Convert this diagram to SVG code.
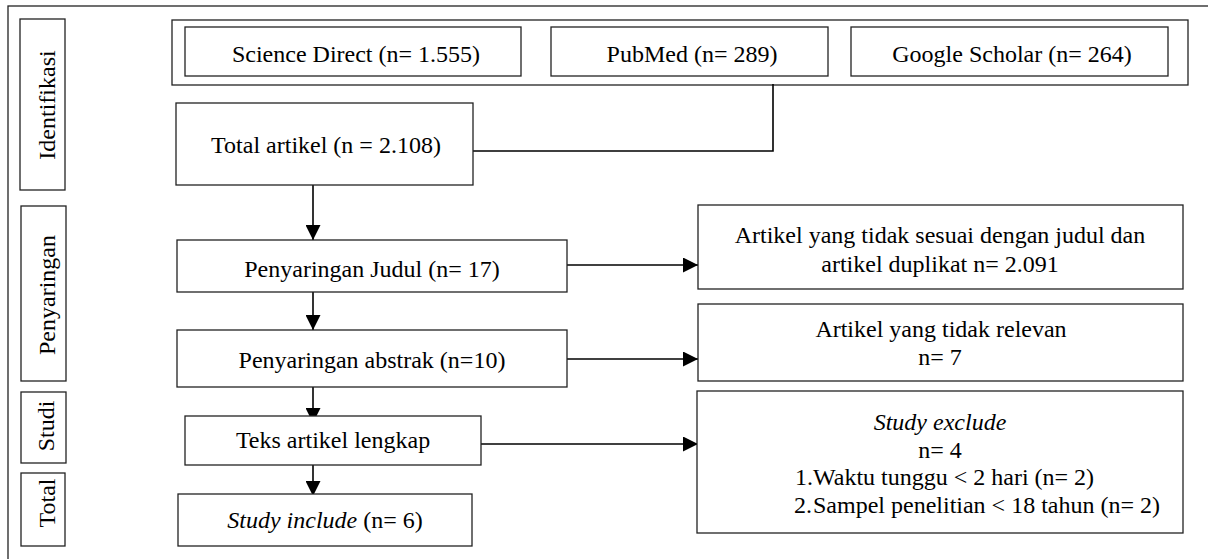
<svg xmlns="http://www.w3.org/2000/svg" width="1208" height="559" viewBox="0 0 1208 559">
<style>
text{font-family:"Liberation Serif","Times New Roman",serif;font-size:24px;fill:#000}
.c{text-anchor:middle}
.box{fill:#fff;stroke:#222;stroke-width:1.3}
.ln{fill:none;stroke:#000;stroke-width:1.6}
.it{font-style:italic}
</style>
<defs>
<marker id="ah" markerWidth="15" markerHeight="15" refX="15" refY="7.5" orient="auto" markerUnits="userSpaceOnUse">
<path d="M0,0 L15,7.5 L0,15 Z" fill="#000"/>
</marker>
</defs>
<rect x="8" y="6" width="1210" height="565" fill="#fff" stroke="#222" stroke-width="1.3"/>

<g id="lbl-identifikasi"><rect class="box" x="20" y="19" width="45" height="171"/><text class="c" transform="translate(55,105) rotate(-90)">Identifikasi</text></g>
<g id="lbl-penyaringan"><rect class="box" x="21" y="206" width="45" height="175"/><text class="c" transform="translate(55,295) rotate(-90)">Penyaringan</text></g>
<g id="lbl-studi"><rect class="box" x="21" y="392" width="45" height="71"/><text class="c" transform="translate(54,426) rotate(-90)">Studi</text></g>
<g id="lbl-total"><rect class="box" x="21" y="473" width="44" height="73"/><text class="c" transform="translate(55,503) rotate(-90)">Total</text></g>

<g id="sources">
<rect class="box" x="172" y="20" width="1016" height="65"/>
<g id="science-direct"><rect class="box" x="185" y="27" width="336" height="49"/><text class="c" x="356" y="62">Science Direct (n= 1.555)</text></g>
<g id="pubmed"><rect class="box" x="551" y="27" width="277" height="49"/><text class="c" x="692" y="62">PubMed (n= 289)</text></g>
<g id="google-scholar"><rect class="box" x="851" y="27" width="317" height="49"/><text class="c" x="1012" y="62">Google Scholar (n= 264)</text></g>
</g>

<g id="connectors">
<path class="ln" d="M473,151 H773 V84"/>
<path class="ln" d="M313,185 V240" stroke-width="2" marker-end="url(#ah)"/>
<path class="ln" d="M313,292 V330" marker-end="url(#ah)"/>
<path class="ln" d="M313,387 V423" marker-end="url(#ah)"/>
<path class="ln" d="M313,465 V496" marker-end="url(#ah)"/>
<path class="ln" d="M567,265 H698" marker-end="url(#ah)"/>
<path class="ln" d="M567,359 H698" marker-end="url(#ah)"/>
<path class="ln" d="M481,444 H698" marker-end="url(#ah)"/>
</g>

<g id="total-artikel"><rect class="box" x="176" y="103" width="297" height="82"/><text class="c" x="326" y="153">Total artikel (n = 2.108)</text></g>
<g id="penyaringan-judul"><rect class="box" x="177" y="240" width="390" height="52"/><text class="c" x="372" y="277">Penyaringan Judul (n= 17)</text></g>
<g id="penyaringan-abstrak"><rect class="box" x="177" y="330" width="390" height="57"/><text class="c" x="372" y="368">Penyaringan abstrak (n=10)</text></g>
<g id="teks-artikel"><rect class="box" x="185" y="416" width="296" height="49"/><text class="c" x="333" y="448">Teks artikel lengkap</text></g>
<g id="study-include"><rect class="box" x="178" y="494" width="294" height="52"/><text class="c" x="325" y="528"><tspan class="it">Study include</tspan> (n= 6)</text></g>

<g id="excl-judul"><rect class="box" x="698" y="205" width="485" height="84"/><text class="c" x="940" y="243">Artikel yang tidak sesuai dengan judul dan</text><text class="c" x="940" y="272">artikel duplikat n= 2.091</text></g>
<g id="excl-abstrak"><rect class="box" x="698" y="304" width="485" height="77"/><text class="c" x="941" y="337">Artikel yang tidak relevan</text><text class="c" x="940" y="365">n= 7</text></g>
<g id="study-exclude"><rect class="box" x="697" y="391" width="486" height="142"/>
<text class="c it" x="940" y="430">Study exclude</text>
<text class="c" x="940" y="458">n= 4</text>
<text x="795" y="485">1.</text><text x="813" y="485">Waktu tunggu &lt; 2 hari (n= 2)</text>
<text x="794" y="513">2.</text><text x="813" y="513">Sampel penelitian &lt; 18 tahun (n= 2)</text>
</g>
</svg>
